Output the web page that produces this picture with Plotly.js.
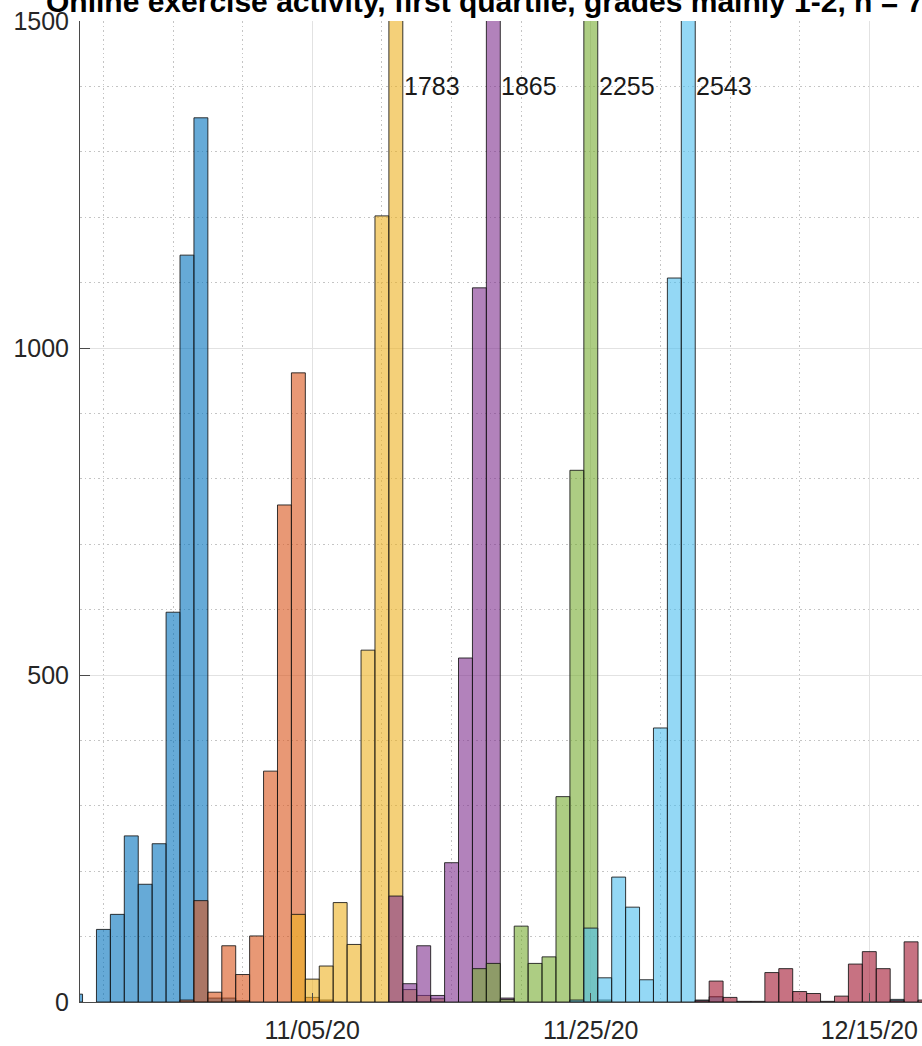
<!DOCTYPE html>
<html>
<head>
<meta charset="utf-8">
<script src="https://cdn.plot.ly/plotly-3.0.1.min.js"></script>
<style>
html, body { margin: 0; padding: 0; overflow: hidden; background: #fff; }
#chart { width: 1200px; height: 1046px; }
</style>
</head>
<body>
<div id="chart"></div>
<script>
// ---- data (daily counts of online exercise submissions, one series per weekly exercise) ----
const seriesNames = ['Week 1', 'Week 2', 'Week 3', 'Week 4', 'Week 5', 'Week 6', 'Week 7'];

const week1Dates  = ['2020-10-19','2020-10-21','2020-10-22','2020-10-23','2020-10-24','2020-10-25','2020-10-26','2020-10-27','2020-10-28','2020-10-29','2020-10-30','2020-10-31'];
const week1Counts = [12, 111, 134, 254, 180, 242, 596, 1142, 1352, 6, 6, 2];

const week2Dates  = ['2020-10-27','2020-10-28','2020-10-29','2020-10-30','2020-10-31','2020-11-01','2020-11-02','2020-11-03','2020-11-04','2020-11-05','2020-11-06'];
const week2Counts = [3, 155, 15, 86, 42, 101, 353, 760, 962, 7, 3];

const week3Dates  = ['2020-11-04','2020-11-05','2020-11-06','2020-11-07','2020-11-08','2020-11-09','2020-11-10','2020-11-11','2020-11-12','2020-11-13','2020-11-14'];
const week3Counts = [134, 35, 55, 152, 88, 538, 1202, 1783, 19, 10, 5];

const week4Dates  = ['2020-11-11','2020-11-12','2020-11-13','2020-11-14','2020-11-15','2020-11-16','2020-11-17','2020-11-18','2020-11-19'];
const week4Counts = [162, 28, 86, 10, 213, 526, 1092, 1865, 6];

const week5Dates  = ['2020-11-17','2020-11-18','2020-11-19','2020-11-20','2020-11-21','2020-11-22','2020-11-23','2020-11-24','2020-11-25','2020-11-26'];
const week5Counts = [51, 59, 4, 116, 59, 69, 314, 813, 2255, 3];

const week6Dates  = ['2020-11-24','2020-11-25','2020-11-26','2020-11-27','2020-11-28','2020-11-29','2020-11-30','2020-12-01','2020-12-02','2020-12-03','2020-12-04','2020-12-17'];
const week6Counts = [3, 113, 37, 191, 145, 34, 419, 1107, 2543, 3, 8, 4];

const week7Dates  = ['2020-12-03','2020-12-04','2020-12-05','2020-12-06','2020-12-07','2020-12-08','2020-12-09','2020-12-10','2020-12-11','2020-12-12','2020-12-13','2020-12-14','2020-12-15','2020-12-16','2020-12-17','2020-12-18','2020-12-19'];
const week7Counts = [2, 32, 7, 1, 1, 45, 51, 16, 13, 1, 9, 58, 77, 51, 2, 92, 3];

const yTickValues = [0, 500, 1000, 1500];
const titleText = 'Online exercise activity, first quartile, grades mainly 1-2, n = 76';

// ---- styling ----
const faceColors = [
  [0, 114, 189], [217, 83, 25], [237, 177, 32], [126, 47, 142],
  [119, 172, 48], [77, 190, 238], [162, 20, 47]
];
const allDates  = [week1Dates, week2Dates, week3Dates, week4Dates, week5Dates, week6Dates, week7Dates];
const allCounts = [week1Counts, week2Counts, week3Counts, week4Counts, week5Counts, week6Counts, week7Counts];

const DAY = 86400000;
const yMax = 1500;
const FONT = 'Liberation Sans, Arial, Helvetica, sans-serif';

function fmt(ms) {
  return new Date(ms).toISOString().replace('T', ' ').replace('Z', '');
}

const traces = allDates.map((d, i) => ({
  type: 'bar',
  name: seriesNames[i],
  x: d,
  y: allCounts[i],
  width: d.map(() => DAY),
  marker: {
    color: 'rgba(' + faceColors[i].join(',') + ',0.6)',
    line: { color: 'rgba(20,20,20,0.85)', width: 1 }
  },
  hoverinfo: 'x+y+name',
  showlegend: false
}));

// labels for bars that run off the top of the axes
const annotations = [];
allDates.forEach((d, i) => {
  allCounts[i].forEach((v, j) => {
    if (v > yMax) {
      const t = new Date(d[j] + 'T00:00:00Z').getTime() + DAY / 2;
      annotations.push({
        x: fmt(t), y: 1400, xref: 'x', yref: 'y',
        text: String(v), showarrow: false,
        xanchor: 'left', yanchor: 'middle', xshift: -1,
        font: { family: FONT, size: 25, color: '#1a1a1a' }
      });
    }
  });
});

const plotLeft = 80, plotWidth = 1040;
const pxPerDay = 13.925;
const tickRef = Date.UTC(2020, 10, 5);
const rangeStart = tickRef - (312.3 - plotLeft) / pxPerDay * DAY;
const rangeEnd = rangeStart + plotWidth / pxPerDay * DAY;

annotations.push({
  xref: 'paper', yref: 'paper',
  x: (44 - plotLeft) / plotWidth, y: 1,
  xanchor: 'left', yanchor: 'middle', yshift: 20,
  text: '<b>' + titleText + '</b>', showarrow: false,
  font: { family: FONT, size: 30, color: '#000' }
});

const axisColor = '#4a4a4a';
const minorDash = '1.5px,3px';
const layout = {
  width: 1200, height: 1046,
  margin: { l: plotLeft, r: 1200 - plotLeft - plotWidth, t: 21, b: 44, pad: 0 },
  paper_bgcolor: '#fff', plot_bgcolor: '#fff',
  barmode: 'overlay',
  bargap: 0,
  font: { family: FONT, size: 25, color: '#262626' },
  xaxis: {
    type: 'date',
    range: [fmt(rangeStart), fmt(rangeEnd)],
    tick0: '2020-11-05', dtick: 20 * DAY,
    tickformat: '%m/%d/%y',
    ticks: 'inside', ticklen: 9, tickwidth: 1, tickcolor: axisColor,
    ticklabelstandoff: 6,
    showline: true, linecolor: axisColor, linewidth: 1,
    showgrid: true, gridcolor: '#e2e2e2', gridwidth: 1,
    zeroline: false,
    tickfont: { family: FONT, size: 25, color: '#262626' },
    minor: { tick0: '2020-11-05', dtick: 5 * DAY, showgrid: true, gridcolor: '#c4c4c4', griddash: minorDash, gridwidth: 1, ticks: '' }
  },
  yaxis: {
    range: [0, yMax],
    tickvals: yTickValues,
    ticks: 'inside', ticklen: 10, tickwidth: 1, tickcolor: axisColor,
    ticklabelstandoff: 5,
    showline: true, linecolor: axisColor, linewidth: 1,
    showgrid: true, gridcolor: '#e2e2e2', gridwidth: 1,
    zeroline: false,
    tickfont: { family: FONT, size: 25, color: '#262626' },
    minor: { dtick: 100, showgrid: true, gridcolor: '#c4c4c4', griddash: minorDash, gridwidth: 1, ticks: '' }
  },
  annotations: annotations
};

Plotly.newPlot('chart', traces, layout, { displayModeBar: false, staticPlot: true });
</script>
</body>
</html>
